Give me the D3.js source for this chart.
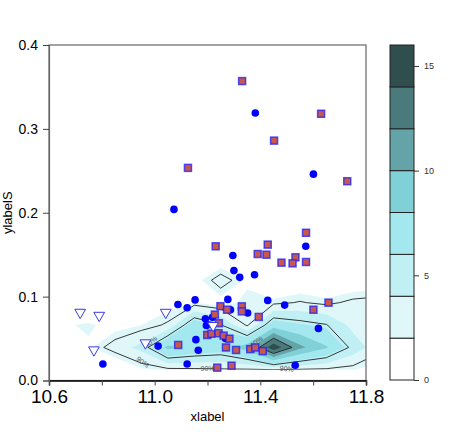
<!DOCTYPE html>
<html>
<head>
<meta charset="utf-8">
<script src="https://cdn.jsdelivr.net/npm/d3@7"></script>
<style>
body { margin: 0; background: #fff; }
text { font-family: "Liberation Sans", Arial, sans-serif; }
</style>
</head>
<body>
<svg id="chart" width="463" height="436"></svg>
<script>
// scatter series (x, y)
const circlePts = [
  [11.381, 0.319], [11.601, 0.246], [11.073, 0.204], [11.572, 0.160], [11.296, 0.149],
  [11.300, 0.131], [11.378, 0.126], [11.322, 0.123], [11.153, 0.0961], [11.088, 0.0907],
  [11.123, 0.0868], [11.277, 0.0967], [11.352, 0.0804], [11.428, 0.0955], [11.492, 0.0899],
  [11.620, 0.0621], [11.192, 0.0737], [11.196, 0.0657], [11.156, 0.0487], [11.013, 0.041],
  [11.165, 0.0361], [10.804, 0.0197], [11.123, 0.0197], [11.532, 0.0181], [11.287, 0.0844],
  [11.219, 0.0753], [11.268, 0.0502]
]
const squarePts = [
  [11.331, 0.357], [11.630, 0.318], [11.452, 0.286], [11.126, 0.2535], [11.729, 0.2376],
  [11.573, 0.1761], [11.231, 0.160], [11.428, 0.162], [11.390, 0.1508], [11.423, 0.150],
  [11.533, 0.1469], [11.480, 0.1405], [11.522, 0.1397], [11.573, 0.1413], [11.249, 0.0886],
  [11.274, 0.0844], [11.330, 0.0884], [11.330, 0.0824], [11.658, 0.0928], [11.601, 0.0844],
  [11.394, 0.0758], [11.228, 0.0786], [11.243, 0.0683], [11.199, 0.0543], [11.215, 0.0558],
  [11.242, 0.0564], [11.261, 0.0535], [11.283, 0.0498], [11.089, 0.0424], [11.270, 0.0394],
  [11.308, 0.0364], [11.362, 0.0374], [11.381, 0.0394], [11.409, 0.035], [11.237, 0.0153],
  [11.291, 0.0177]
]
const trianglePts = [
  [10.718, 0.0812], [10.790, 0.0776], [11.042, 0.0812], [10.965, 0.0448], [10.770, 0.0364],
  [11.221, 0.0654]
]

// density grid (rows from bottom)
const gridX = [10.75, 10.85, 10.95, 11.05, 11.15, 11.25, 11.35, 11.45, 11.55, 11.65, 11.75, 11.85]
const gridY = [0.0127, 0.0394, 0.0661, 0.0928, 0.1195, 0.1462]
const density = [
  [0, 0.5, 1.8, 2.2, 2.3, 2.4, 2.4, 2.5, 2.4, 2.3, 2.05, 1.5],
  [1.8, 3.2, 4.5, 8.5, 7.5, 7.0, 9.0, 15.5, 10.5, 8.2, 5.0, 3.0],
  [2.2, 1.5, 2.0, 2.8, 7.2, 5.6, 2.4, 7.0, 6.2, 5.6, 3.5, 3.0],
  [0, 0, 0.5, 1.5, 2.0, 1.5, 2.3, 2.3, 2.7, 2.3, 2.9, 3.1],
  [0, 0, 0, 0, 1.5, 3.2, 1.8, 0.5, 1.0, 0.8, 1.0, 1.2],
  [0, 0, 0, 0, 0, 1.0, 0.5, 0, 0, 0, 0, 0.3]
]

const levels = [0, 2, 4, 6, 8, 10, 12, 14, 16]
const levelColors = ["#ffffff", "#e0f7fa", "#c1f0f4", "#a2e8ee", "#80d0d7", "#64a3a7", "#4a7a7b", "#2f4f4f"]
const hdrLevels = [2.6, 5.5, 12]
const hdrLabels = [
  { x: 10.955, y: 0.022, t: "90%", a: 35 },
  { x: 11.2, y: 0.014, t: "90%", a: 0 },
  { x: 11.5, y: 0.014, t: "90%", a: 5 },
  { x: 10.985, y: 0.046, t: "50%", a: -40 },
  { x: 11.385, y: 0.046, t: "10%", a: -40 }
]

const xTicks = [10.6, 10.8, 11.0, 11.2, 11.4, 11.6, 11.8]
const xTickLabels = [10.6, 11.0, 11.4, 11.8]
const yTicks = [0, 0.1, 0.2, 0.3, 0.4]
const cbTicks = [0, 5, 10, 15]

let svg = d3.select("#chart")
let margin = { left: 49, top: 45, right: 366, bottom: 380.5 }

let x = d3.scaleLinear().domain([10.6, 11.8]).range([margin.left, margin.right])
let y = d3.scaleLinear().domain([0, 0.4]).range([margin.bottom, margin.top])

svg.append("clipPath").attr("id", "gridclip")
  .append("rect")
  .attr("x", x(10.6)).attr("y", y(0.4))
  .attr("width", x(11.8) - x(10.6))
  .attr("height", y(gridY[0]) - y(0.4))

// contours
let n = gridX.length, m = gridY.length
let dxg = gridX[1] - gridX[0], dyg = gridY[1] - gridY[0]
let values = density.flat()
let proj = d3.geoTransform({
  point: function (px, py) {
    this.stream.point(x(gridX[0] + (px - 0.5) * dxg), y(gridY[0] + (py - 0.5) * dyg))
  }
})
let path = d3.geoPath(proj)

let fills = d3.contours().size([n, m]).thresholds(levels.slice(1, -1))(values)
svg.append("g").attr("clip-path", "url(#gridclip)")
  .selectAll("path")
  .data(fills)
  .enter()
  .append("path")
  .attr("d", path)
  .attr("fill", d => levelColors[levels.indexOf(d.value)])

let lines = d3.contours().size([n, m]).thresholds(hdrLevels)(values)
svg.append("g").attr("clip-path", "url(#gridclip)")
  .selectAll("path")
  .data(lines)
  .enter()
  .append("path")
  .attr("d", path)
  .attr("fill", "none")
  .attr("stroke", "#222")
  .attr("stroke-width", 0.9)

svg.append("g")
  .selectAll("text")
  .data(hdrLabels)
  .enter()
  .append("text")
  .attr("transform", d => `translate(${x(d.x)},${y(d.y)}) rotate(${d.a})`)
  .attr("text-anchor", "middle")
  .attr("dy", "0.35em")
  .attr("font-size", "7px")
  .attr("fill", "#555")
  .text(d => d.t)

// points
svg.append("g")
  .selectAll("circle")
  .data(circlePts)
  .enter()
  .append("circle")
  .attr("cx", d => x(d[0]))
  .attr("cy", d => y(d[1]))
  .attr("r", 3.8)
  .style("fill", "blue")

svg.append("g")
  .selectAll("rect")
  .data(squarePts)
  .enter()
  .append("rect")
  .attr("x", d => x(d[0]) - 3.5)
  .attr("y", d => y(d[1]) - 3.5)
  .attr("width", 7)
  .attr("height", 7)
  .attr("fill", "#c6584f")
  .attr("stroke", "rgba(30,30,255,0.75)")
  .attr("stroke-width", 1.5)

let tri = d3.symbol().type(d3.symbolTriangle).size(50)
svg.append("g")
  .selectAll("path")
  .data(trianglePts)
  .enter()
  .append("path")
  .attr("d", tri)
  .attr("transform", d => `translate(${x(d[0])},${y(d[1])}) rotate(180)`)
  .attr("fill", "white")
  .attr("stroke", "#3a3ae6")
  .attr("stroke-width", 1)

// frame and axes
svg.append("rect")
  .attr("x", x(10.6)).attr("y", y(0.4))
  .attr("width", x(11.8) - x(10.6))
  .attr("height", y(0) - y(0.4))
  .attr("fill", "none")
  .attr("stroke", "#666")
  .attr("stroke-width", 1.2)

let xAxis = svg.append("g")
  .attr("transform", `translate(0,${y(0)})`)
  .call(d3.axisBottom(x).tickValues(xTicks).tickSize(5).tickPadding(4)
    .tickFormat(d => xTickLabels.some(v => Math.abs(v - d) < 1e-9) ? d3.format(".1f")(d) : ""))
xAxis.select(".domain").attr("stroke", "#000").attr("stroke-width", 1.5)
xAxis.selectAll(".tick line").attr("stroke", "#444")
xAxis.selectAll("text").attr("font-size", "19px").attr("fill", "#000")

let yAxis = svg.append("g")
  .attr("transform", `translate(${x(10.6)},0)`)
  .call(d3.axisLeft(y).tickValues(yTicks).tickSize(6).tickPadding(5).tickFormat(d3.format(".1f")))
yAxis.select(".domain").attr("stroke", "#666").attr("stroke-width", 1.2)
yAxis.selectAll(".tick line").attr("stroke", "#444")
yAxis.selectAll("text").attr("font-size", "14px").attr("fill", "#000")

svg.append("text")
  .attr("x", (x(10.6) + x(11.8)) / 2)
  .attr("y", 421)
  .attr("text-anchor", "middle")
  .attr("font-size", "13px")
  .text("xlabel")

svg.append("text")
  .attr("transform", `translate(12,${(y(0) + y(0.4)) / 2}) rotate(-90)`)
  .attr("text-anchor", "middle")
  .attr("font-size", "13px")
  .text("ylabelS")

// colorbar
let cbY = d3.scaleLinear().domain([0, 16]).range([380, 45])
let cb = svg.append("g")
cb.selectAll("rect")
  .data(levelColors)
  .enter()
  .append("rect")
  .attr("x", 390)
  .attr("width", 24)
  .attr("y", (d, i) => cbY(levels[i + 1]))
  .attr("height", (d, i) => cbY(levels[i]) - cbY(levels[i + 1]))
  .attr("fill", d => d)
  .attr("stroke", "#222")
  .attr("stroke-width", 1)

let cbAxis = svg.append("g")
  .attr("transform", "translate(414,0)")
  .call(d3.axisRight(cbY).tickValues(cbTicks).tickSize(5).tickPadding(5))
cbAxis.select(".domain").remove()
cbAxis.selectAll(".tick line").attr("stroke", "#333")
cbAxis.selectAll("text").attr("font-size", "9px").attr("fill", "#333")
</script>
</body>
</html>
